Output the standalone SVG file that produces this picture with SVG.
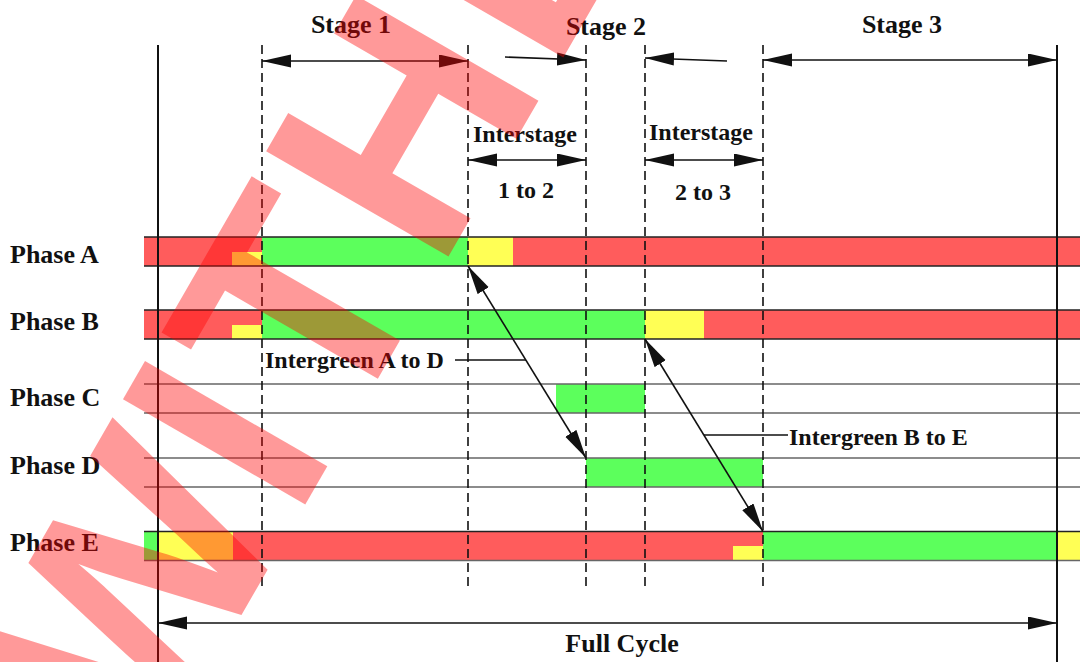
<svg xmlns="http://www.w3.org/2000/svg" width="1080" height="662" viewBox="0 0 1080 662">
<defs>
<style>
.lbl{font-family:'Liberation Serif','Times New Roman',serif;font-weight:bold;font-size:26px;fill:#111}
.sm{font-size:24px}
.mid{text-anchor:middle}
.r{fill:#ff5c5c}.g{fill:#5cff5c}.y{fill:#ffff55}
.edge{stroke:#222;stroke-width:1.3}
.edge2{stroke:#666;stroke-width:1.3}
.dash{stroke:#111;stroke-width:1.6;stroke-dasharray:9 5;fill:none}
.solid{stroke:#111;stroke-width:2;fill:none}
.arr{stroke:#111;stroke-width:1.6;fill:none}
.both{marker-start:url(#ah);marker-end:url(#ah)}
.end{marker-end:url(#ah)}
.wm{font-family:'Liberation Sans',Arial,sans-serif;font-weight:bold;font-size:306px;fill:#ff0000;fill-opacity:0.4}
</style>
<marker id="ah" markerUnits="userSpaceOnUse" markerWidth="30" markerHeight="14" refX="29" refY="6.5" orient="auto-start-reverse" viewBox="0 0 30 14"><path d="M0,0 L29,6.5 L0,13 z" fill="#111"/></marker>
</defs>
<rect x="0" y="0" width="1080" height="662" fill="#fff"/>

<g id="phase-a">
<rect class="r" x="144" y="237" width="118" height="29"/>
<rect class="y" x="232" y="252" width="30" height="14"/>
<rect class="g" x="262" y="237" width="206" height="29"/>
<rect class="y" x="468" y="237" width="45" height="29"/>
<rect class="r" x="513" y="237" width="567" height="29"/>
<line class="edge" x1="144" y1="237" x2="1080" y2="237"/>
<line class="edge" x1="144" y1="266" x2="1080" y2="266"/>
<text class="lbl" x="10" y="263">Phase A</text>
</g>

<g id="phase-b">
<rect class="r" x="144" y="310" width="118" height="29"/>
<rect class="y" x="232" y="325" width="30" height="14"/>
<rect class="g" x="262" y="310" width="383" height="29"/>
<rect class="y" x="645" y="310" width="59" height="29"/>
<rect class="r" x="704" y="310" width="376" height="29"/>
<line class="edge" x1="144" y1="310" x2="1080" y2="310"/>
<line class="edge" x1="144" y1="339" x2="1080" y2="339"/>
<text class="lbl" x="10" y="330">Phase B</text>
</g>

<g id="phase-c">
<rect class="g" x="556" y="384" width="89" height="29"/>
<line class="edge2" x1="144" y1="384" x2="1080" y2="384"/>
<line class="edge2" x1="144" y1="413" x2="1080" y2="413"/>
<text class="lbl" x="10" y="406">Phase C</text>
</g>

<g id="phase-d">
<rect class="g" x="586" y="458" width="177" height="29"/>
<line class="edge2" x1="144" y1="458" x2="1080" y2="458"/>
<line class="edge2" x1="144" y1="487" x2="1080" y2="487"/>
<text class="lbl" x="10" y="474">Phase D</text>
</g>

<g id="phase-e">
<rect class="g" x="144" y="531.5" width="15" height="29"/>
<rect class="y" x="159" y="531.5" width="74" height="29"/>
<rect class="r" x="233" y="531.5" width="530" height="29"/>
<rect class="y" x="733" y="546" width="30" height="14.5"/>
<rect class="g" x="763" y="531.5" width="294" height="29"/>
<rect class="y" x="1057" y="531.5" width="23" height="29"/>
<line class="edge" x1="144" y1="531.5" x2="1080" y2="531.5"/>
<line class="edge2" x1="144" y1="560.5" x2="1080" y2="560.5"/>
<text class="lbl" x="10" y="551">Phase E</text>
</g>

<g id="guides">
<line class="solid" x1="158" y1="45" x2="158" y2="662"/>
<line class="solid" x1="1057" y1="45" x2="1057" y2="662"/>
<line class="dash" x1="262" y1="45" x2="262" y2="590"/>
<line class="dash" x1="468" y1="45" x2="468" y2="590"/>
<line class="dash" x1="586" y1="45" x2="586" y2="590"/>
<line class="dash" x1="645" y1="45" x2="645" y2="590"/>
<line class="dash" x1="763" y1="45" x2="763" y2="590"/>
</g>

<g id="connectors">
<line class="arr both" x1="262" y1="61" x2="468" y2="61"/>
<line class="arr end" x1="505" y1="57" x2="586" y2="60"/>
<line class="arr end" x1="727" y1="61" x2="645" y2="58"/>
<line class="arr both" x1="763" y1="60" x2="1057" y2="60"/>
<line class="arr both" x1="468" y1="160" x2="586" y2="160"/>
<line class="arr both" x1="645" y1="160" x2="763" y2="160"/>
<line class="arr both" x1="158" y1="623" x2="1057" y2="623"/>
<line class="arr both" x1="468" y1="266" x2="586" y2="458"/>
<line class="arr" x1="455" y1="360" x2="526" y2="360"/>
<line class="arr both" x1="645" y1="339" x2="763" y2="531.5"/>
<line class="arr" x1="704" y1="435" x2="788" y2="435"/>
</g>

<g id="labels">
<text class="lbl mid" x="351" y="33">Stage 1</text>
<text class="lbl mid" x="606" y="35">Stage 2</text>
<text class="lbl mid" x="902" y="33">Stage 3</text>
<text class="lbl sm mid" x="525" y="142">Interstage</text>
<text class="lbl sm mid" x="526" y="198">1 to 2</text>
<text class="lbl sm mid" x="701" y="140">Interstage</text>
<text class="lbl sm mid" x="703" y="200">2 to 3</text>
<text class="lbl sm" x="265" y="368">Intergreen A to D</text>
<text class="lbl sm" x="789" y="445">Intergreen B to E</text>
<text class="lbl mid" x="622" y="652">Full Cycle</text>
</g>

<g id="watermark">
<text class="wm" transform="translate(316.3,485.4) rotate(-60)" x="-331.5 -42.5 51.7 243.9 473.6" y="0">WITHDRAWN</text>
</g>
</svg>
